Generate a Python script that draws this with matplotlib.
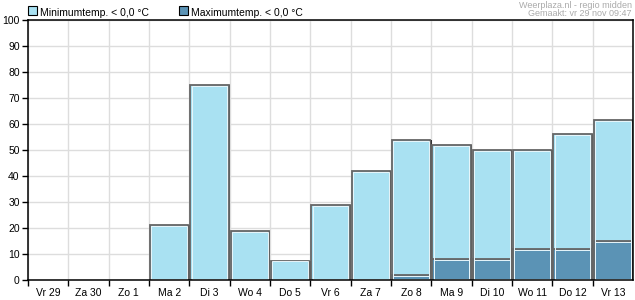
import numpy as np
import matplotlib.pyplot as plt

days = ['Vr 29', 'Za 30', 'Zo 1', 'Ma 2', 'Di 3', 'Wo 4', 'Do 5', 'Vr 6', 'Za 7',
        'Zo 8', 'Ma 9', 'Di 10', 'Wo 11', 'Do 12', 'Vr 13']
min_kans = [0, 0, 0, 21, 75, 19, 7.5, 29, 42, 54, 52, 50, 50, 56, 61.5]
max_kans = [0, 0, 0, 0, 0, 0, 0, 0, 0, 2, 8, 8, 12, 12, 15]

light = '#a9e1f2'
dark = '#5b93b5'

plt.rcParams['font.family'] = ['Liberation Sans', 'DejaVu Sans']
fig = plt.figure(figsize=(6.35, 3.0), dpi=100)
ax = fig.add_axes([28/635, 20/300, 605/635, 260/300])

x = np.arange(len(days))
for vals, col in ((min_kans, light), (max_kans, dark)):
    v = np.array(vals, dtype=float)
    m = v > 0
    # shadow on the right
    ax.bar(x[m] + 0.03, v[m], width=0.95, color='#333333', linewidth=0, zorder=2.5)
    # dark outline
    ax.bar(x[m], v[m], width=0.95, color=col, edgecolor='#666666', linewidth=1.3, zorder=3)
    # light inner highlight
    ax.bar(x[m], v[m] - 0.7, width=0.88, bottom=0.35, color='none',
           edgecolor='#e8f6fb', linewidth=0.7, zorder=4)

ax.set_xlim(-0.5, len(days) - 0.5)
ax.set_ylim(0, 100)
ax.set_yticks(np.arange(0, 101, 10))
ax.set_xticks(x - 0.5, minor=False)
ax.set_xticklabels([])
ax.set_xticks(x, minor=True)
ax.set_xticklabels(days, minor=True)
ax.tick_params(axis='x', which='minor', length=0, pad=6, labelsize=7.5)
ax.tick_params(axis='x', which='major', length=4, width=1, direction='out')
ax.tick_params(axis='y', length=4, width=1, labelsize=7.5, pad=2)
ax.grid(True, which='major', color='#dddddd', linewidth=1, zorder=0)
ax.set_axisbelow(True)
for s in ax.spines.values():
    s.set_linewidth(1.1)
    s.set_color('black')
    s.set_zorder(5)

# legend
fig.patches.append(plt.Rectangle((28/635, 285/300 - 0.001), 9/635, 9/300, transform=fig.transFigure,
                                 facecolor=light, edgecolor='black', linewidth=0.8))
fig.text(40/635, 1 - 13/300, 'Minimumtemp. < 0,0 °C', fontsize=7.5, va='center')
fig.patches.append(plt.Rectangle((179/635, 285/300 - 0.001), 9/635, 9/300, transform=fig.transFigure,
                                 facecolor=dark, edgecolor='black', linewidth=0.8))
fig.text(191/635, 1 - 13/300, 'Maximumtemp. < 0,0 °C', fontsize=7.5, va='center')

fig.text(632/635, 1 - 5/300, 'Weerplaza.nl - regio midden', fontsize=6.5, color='#aaaaaa',
         ha='right', va='center')
fig.text(632/635, 1 - 14/300, 'Gemaakt: vr 29 nov 09:47', fontsize=6.5, color='#aaaaaa',
         ha='right', va='center')

fig.savefig('out.png', dpi=100)
